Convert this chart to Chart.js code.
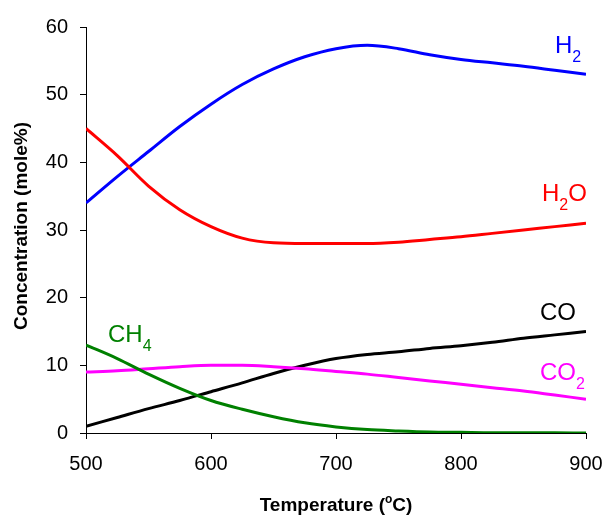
<!DOCTYPE html>
<html>
<head>
<meta charset="utf-8">
<script src="https://cdn.jsdelivr.net/npm/chart.js@4.4.1/dist/chart.umd.min.js"></script>
<style>
html,body{margin:0;padding:0;background:#fff;}
#wrap{width:605px;height:516px;position:relative;}
</style>
</head>
<body>
<div id="wrap"><canvas id="chart"></canvas></div>
<script>
'use strict';
// temperatures (°C) and the equilibrium concentrations (mole%)
const temps = [500,525,550,575,600,625,650,675,700,725,750,775,800,825,850,875,900];
const h2  = [34.0,37.9,41.6,45.3,48.6,51.5,53.8,55.6,56.8,57.3,56.8,55.9,55.2,54.7,54.2,53.6,53.0];
const h2o = [45.0,41.0,36.5,33.0,30.5,28.8,28.1,28.0,28.0,28.0,28.2,28.6,29.0,29.5,30.0,30.5,31.0];
const co  = [1.0,2.3,3.6,4.8,6.1,7.4,8.8,10.0,11.0,11.6,12.0,12.5,12.9,13.4,14.0,14.5,15.0];
const co2 = [9.0,9.2,9.5,9.8,10.0,10.0,9.8,9.5,9.1,8.7,8.2,7.7,7.2,6.7,6.2,5.6,5.0];
const ch4 = [13.0,11.0,8.7,6.6,4.8,3.5,2.4,1.5,0.9,0.5,0.3,0.15,0.1,0.05,0.05,0.02,0.0];

const xTicks = [500,600,700,800,900];
const yTicks = [0,10,20,30,40,50,60];

const FONT = '"Liberation Sans", Arial, sans-serif';

// species labels next to the curves: [pieces], colour, x, baseline
const labels = [
  { parts:[['H',0],['2',1]], color:'#0000ff', x:555, y:53 },
  { parts:[['H',0],['2',1],['O',0]], color:'#ff0000', x:542, y:201 },
  { parts:[['CO',0]], color:'#000000', x:540, y:320 },
  { parts:[['CO',0],['2',1]], color:'#ff00ff', x:540, y:380 },
  { parts:[['CH',0],['4',1]], color:'#008000', x:108, y:342 },
];

function series(vals) { return temps.map((t,i) => ({ x:t, y:vals[i] })); }
function ds(label, vals, color) {
  return { label, data:series(vals), borderColor:color, backgroundColor:color,
    borderWidth:3, pointRadius:0, cubicInterpolationMode:'monotone', fill:false };
}

function drawChem(ctx, item) {
  let x = item.x;
  ctx.fillStyle = item.color;
  ctx.textBaseline = 'alphabetic';
  ctx.textAlign = 'left';
  item.parts.forEach(([txt, sub]) => {
    ctx.font = sub ? '16px ' + FONT : '24px ' + FONT;
    ctx.fillText(txt, x, item.y + (sub ? 9 : 0));
    x += ctx.measureText(txt).width;
  });
}

const textPlugin = {
  id: 'textPlugin',
  afterDraw(chart) {
    const ctx = chart.ctx, area = chart.chartArea;
    ctx.save();
    labels.forEach(l => drawChem(ctx, l));
    // x axis title with superscript o
    ctx.fillStyle = '#000';
    ctx.textBaseline = 'alphabetic';
    const a = 'Temperature (', b = 'o', c = 'C)';
    ctx.font = 'bold 19px ' + FONT;
    const wa = ctx.measureText(a).width, wc = ctx.measureText(c).width;
    ctx.font = 'bold 12px ' + FONT;
    const wb = ctx.measureText(b).width;
    let x = (area.left + area.right) / 2 - (wa + wb + wc) / 2;
    const base = 511;
    ctx.font = 'bold 19px ' + FONT;
    ctx.textAlign = 'left';
    ctx.fillText(a, x, base); x += wa;
    ctx.font = 'bold 12px ' + FONT;
    ctx.fillText(b, x, base - 8); x += wb;
    ctx.font = 'bold 19px ' + FONT;
    ctx.fillText(c, x, base);
    // y axis title
    ctx.translate(22, (area.top + area.bottom) / 2 - 4);
    ctx.rotate(-Math.PI / 2);
    ctx.textAlign = 'center';
    ctx.textBaseline = 'middle';
    ctx.font = 'bold 19px ' + FONT;
    ctx.fillText('Concentration (mole%)', 0, 0);
    ctx.restore();
  }
};

new Chart(document.getElementById('chart').getContext('2d'), {
  type: 'line',
  data: { datasets: [
    ds('CH4', ch4, '#008000'),
    ds('CO2', co2, '#ff00ff'),
    ds('CO', co, '#000000'),
    ds('H2O', h2o, '#ff0000'),
    ds('H2', h2, '#0000ff'),
  ] },
  options: {
    responsive: true, maintainAspectRatio: false, animation: false,
    layout: { padding: { top: 27, right: 19, left: 0, bottom: 0 } },
    plugins: { legend: { display:false }, tooltip: { enabled:false } },
    scales: {
      x: {
        type: 'linear', min: 500, max: 900,
        afterBuildTicks: s => { s.ticks = xTicks.map(v => ({ value:v })); },
        afterFit: s => { s.height = 83; s.paddingLeft = 0; s.paddingRight = 0; },
        grid: { drawOnChartArea:false, drawTicks:true, tickLength:6, color:'#000' },
        border: { color:'#000', width:1 },
        ticks: { color:'#000', font:{ family:FONT, size:20 }, padding:13, maxRotation:0 }
      },
      y: {
        min: 0, max: 60,
        afterBuildTicks: s => { s.ticks = yTicks.map(v => ({ value:v })); },
        afterFit: s => { s.width = 86; s.paddingTop = 0; s.paddingBottom = 0; },
        grid: { drawOnChartArea:false, drawTicks:true, tickLength:6, color:'#000' },
        border: { color:'#000', width:1 },
        ticks: { color:'#000', font:{ family:FONT, size:20 }, padding:12 }
      }
    }
  },
  plugins: [textPlugin]
});
</script>
</body>
</html>
